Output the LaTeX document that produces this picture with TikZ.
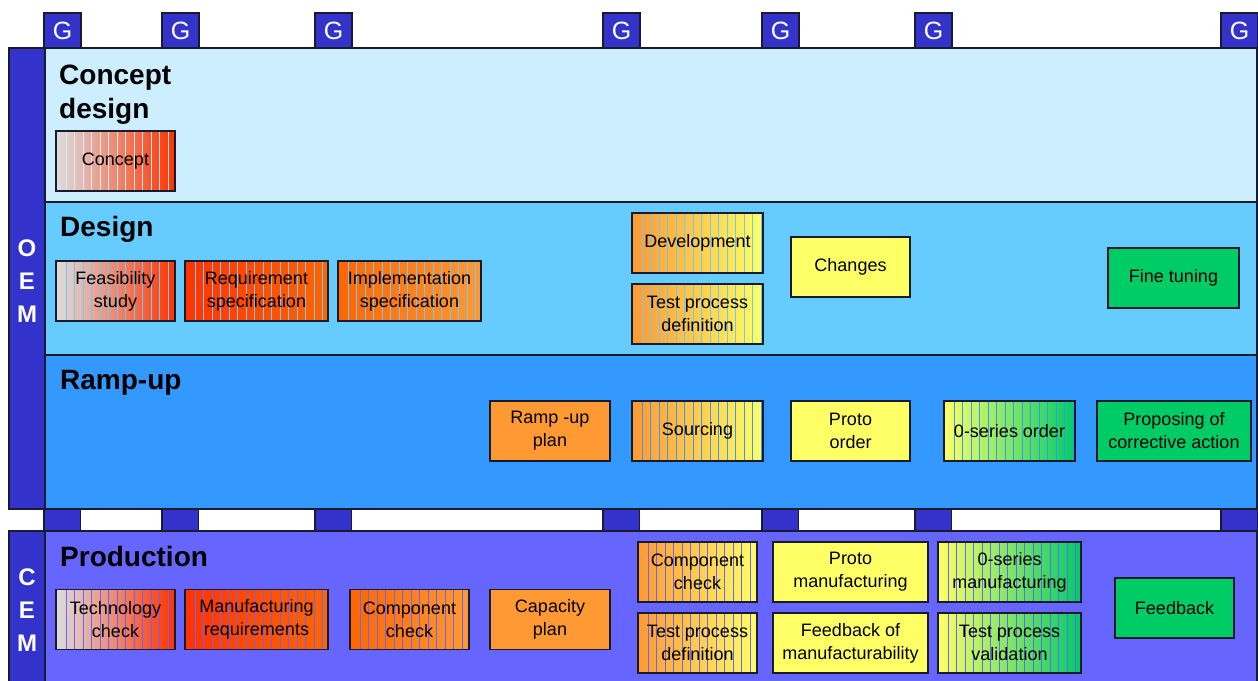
\documentclass[tikz,border=0pt]{standalone}
\usepackage{fontspec}
\setmainfont{Liberation Sans}

\definecolor{conceptbg}{HTML}{CCEEFF}
\definecolor{designbg}{HTML}{66CCFF}
\definecolor{rampbg}{HTML}{3399FF}
\definecolor{prodbg}{HTML}{6666FF}
\definecolor{barblue}{HTML}{3333CC}
\definecolor{greyC}{HTML}{DDDDDD}
\definecolor{pinkC}{HTML}{E9B0B0}
\definecolor{redC}{HTML}{FF3300}
\definecolor{orangeA}{HTML}{FF6600}
\definecolor{orangeB}{HTML}{FF9933}
\definecolor{yellowC}{HTML}{FFFF66}
\definecolor{limeC}{HTML}{D6EE66}
\definecolor{greenC}{HTML}{00CC66}
\definecolor{frame}{HTML}{1A1A2E}

\newcommand\boxfont{\fontsize{18}{23}\selectfont}
\newcommand\headfont{\bfseries\fontsize{28}{34}\selectfont}

\tikzset{
  task/.style={draw=frame, line width=1.6pt, minimum height=60pt, align=center,
    font=\boxfont, inner sep=1pt},
  striped/.style={path picture={
    \foreach \d in {10,18.5,...,160}
      \draw[#1, line width=0.8pt] ([xshift=\d pt]path picture bounding box.south west)
        -- ([xshift=\d pt]path picture bounding box.north west);}},
  greyred/.style={left color=greyC, middle color=pinkC, right color=redC},
  yellowgreen/.style={left color=yellowC, middle color=limeC, right color=greenC},
  heading/.style={anchor=base west, font=\headfont, align=left, inner sep=0pt},
  gate/.style={draw=frame, line width=1.2pt, fill=barblue, text=white,
    minimum width=37pt, minimum height=35pt, inner sep=0pt,
    font=\fontsize{25}{25}\selectfont},
  party/.style={text=white, font=\bfseries\fontsize{24}{33}\selectfont, align=center},
  line/.style={draw=frame, line width=1.4pt},
}

\begin{document}
\begin{tikzpicture}[x=1pt, y=-1pt]
\useasboundingbox (0,0) rectangle (1258,680);

% lanes
\fill[conceptbg] (45,48) rectangle (1257,202);
\fill[designbg] (45,202) rectangle (1257,355);
\fill[rampbg] (45,355) rectangle (1257,509);
\fill[barblue] (9,48) rectangle (45,509);
\draw[line] (9,48) rectangle (1257,509);
\draw[line] (45,48) -- (45,509);
\draw[line] (45,202) -- (1257,202);
\draw[line] (45,355) -- (1257,355);

\fill[prodbg] (45,531) rectangle (1257,690);
\fill[barblue] (9,531) rectangle (45,690);
\draw[line] (9,690) |- (1257,531) -- (1257,690);
\draw[line] (45,531) -- (45,690);

% gates
\draw[line, fill=white] (45,509) rectangle (1257,531);
\foreach \gx [count=\i] in {44,162,315,603,762,915,1221} {
  \node[gate] (g\i) at (\gx+18.5,30.5) {G};
  \draw[line, fill=barblue] (\gx,509) rectangle (\gx+36.5,531);
}

\node[party] (oem) at (27,281) {O\\E\\M};
\node[party] (cem) at (27,610) {C\\E\\M};

\node[heading] (hconcept) at (59,118) {Concept\\design};
\node[heading] (hdesign) at (60,236) {Design};
\node[heading] (hramp) at (60,389) {Ramp-up};
\node[heading] (hprod) at (60,566) {Production};

% concept design
\node[task, minimum width=119pt, greyred, striped=conceptbg] (concept) at (115.5,161) {Concept};

% design
\node[task, minimum width=119pt, greyred, striped=designbg] (feas) at (115.5,291) {Feasibility\\study};
\node[task, minimum width=143pt, left color=redC, right color=orangeA, striped=designbg] (reqspec) at (256.5,291) {Requirement\\specification};
\node[task, minimum width=143pt, left color=orangeA, right color=orangeB, striped=designbg] (implspec) at (409.5,291) {Implementation\\specification};
\node[task, minimum width=131pt, left color=orangeB, right color=yellowC, striped=designbg] (devel) at (697.5,243) {Development};
\node[task, minimum width=131pt, left color=orangeB, right color=yellowC, striped=designbg] (testdef) at (697.5,314) {Test process\\definition};
\node[task, minimum width=119pt, fill=yellowC] (changes) at (850.5,267) {Changes};
\node[task, minimum width=131pt, fill=greenC] (finetune) at (1173.5,278) {Fine tuning};

% ramp-up
\node[task, minimum width=120pt, fill=orangeB] (rampplan) at (550,431) {Ramp -up\\plan};
\node[task, minimum width=131pt, left color=orangeB, right color=yellowC, striped=rampbg] (sourcing) at (697.5,431) {Sourcing};
\node[task, minimum width=119pt, fill=yellowC] (protoorder) at (850.5,431) {Proto\\order};
\node[task, minimum width=131pt, yellowgreen, striped=rampbg] (zeroorder) at (1009.5,431) {0-series order};
\node[task, minimum width=154pt, fill=greenC] (corrective) at (1174,431) {Proposing of\\corrective action};

% production
\node[task, minimum width=119pt, greyred, striped=prodbg] (techcheck) at (115.5,619.5) {Technology\\check};
\node[task, minimum width=143pt, left color=redC, right color=orangeA, striped=prodbg] (manreq) at (256.5,619.5) {Manufacturing\\requirements};
\node[task, minimum width=119pt, left color=orangeA, right color=orangeB, striped=prodbg] (compcheck) at (409.5,619.5) {Component\\check};
\node[task, minimum width=120pt, fill=orangeB] (capacity) at (550,619.5) {Capacity\\plan};
\node[task, minimum width=119pt, left color=orangeB, right color=yellowC, striped=prodbg] (compcheckb) at (697.5,572) {Component\\check};
\node[task, minimum width=119pt, left color=orangeB, right color=yellowC, striped=prodbg] (testdefb) at (697.5,643) {Test process\\definition};
\node[task, minimum width=155pt, fill=yellowC] (protoman) at (850.5,572) {Proto\\manufacturing};
\node[task, minimum width=155pt, fill=yellowC] (feedbackman) at (850.5,643) {Feedback of\\manufacturability};
\node[task, minimum width=143pt, yellowgreen, striped=prodbg] (zeroman) at (1009.5,572) {0-series\\manufacturing};
\node[task, minimum width=143pt, yellowgreen, striped=prodbg] (testval) at (1009.5,643) {Test process\\validation};
\node[task, minimum width=119pt, fill=greenC] (feedback) at (1174.5,608) {Feedback};
\end{tikzpicture}
\end{document}
